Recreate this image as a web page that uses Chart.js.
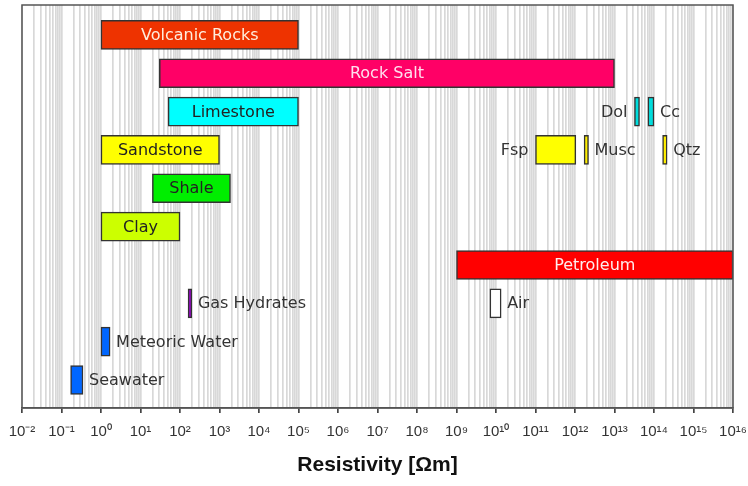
<!DOCTYPE html>
<html>
<head>
<meta charset="utf-8">
<script src="https://cdn.jsdelivr.net/npm/chart.js@4"></script>
<style>
  html, body { margin: 0; padding: 0; background: #fff; }
  #wrap { width: 748px; height: 486px; }
</style>
</head>
<body>
<div id="wrap"><canvas id="chart"></canvas></div>
<script>
// materials, one bar each
var names  = ['Volcanic Rocks', 'Rock Salt', 'Limestone', 'Dol', 'Cc', 'Sandstone', 'Fsp', 'Musc', 'Qtz',
              'Shale', 'Clay', 'Petroleum', 'Gas Hydrates', 'Air', 'Meteoric Water', 'Seawater'];
var rows   = [0, 1, 2, 2, 2, 3, 3, 3, 3, 4, 5, 6, 7, 7, 8, 9];
var lows   = [1, 30, 50, 3.2e13, 7e13, 1, 1e11, 1.7e12, 1.65e14, 20, 1, 1e9, 160, 7e9, 1, 0.17];
var highs  = [1e5, 1e13, 1e5, 4.3e13, 1e14, 1e3, 1.05e12, 2.2e12, 2.15e14, 1900, 100, 1e16, 200, 1.35e10, 1.7, 0.35];
var fills  = ['#EE3300', '#FF0066', '#00FFFF', '#00DDDD', '#00DDDD', '#FFFF00', '#FFFF00', '#FFEE00', '#FFEE00',
              '#00EE00', '#CCFF00', '#FF0000', '#9900CC', '#FFFFFF', '#0066FF', '#0066FF'];
// where the name goes: inside the bar, or to its left / right
var labelPos = ['in', 'in', 'in', 'left', 'right', 'in', 'left', 'right', 'right',
                'in', 'in', 'in', 'right', 'right', 'right', 'right'];
var labelColor = ['#FFEEDD', '#FFE0EE', '#222', '#333', '#333', '#222', '#333', '#333', '#333',
                  '#222', '#222', '#FFEEEE', '#333', '#333', '#333', '#333'];
var minExp = -2, maxExp = 16;

var sup = {'-': '\u207B', '0': '\u2070', '1': '\u00B9', '2': '\u00B2', '3': '\u00B3', '4': '\u2074',
           '5': '\u2075', '6': '\u2076', '7': '\u2077', '8': '\u2078', '9': '\u2079'};
function powLabel(e) {
  return '10' + String(e).split('').map(function(c) { return sup[c]; }).join('');
}
function isDecade(v) {
  var e = Math.round(Math.log10(v));
  return Math.abs(v - Math.pow(10, e)) < Math.pow(10, e) * 1e-9;
}

var barData = names.map(function(n, i) { return { x: [lows[i], highs[i]], y: rows[i] }; });

var labelsPlugin = {
  id: 'barLabels',
  afterDatasetsDraw: function(chart) {
    var ctx = chart.ctx;
    var meta = chart.getDatasetMeta(0);
    ctx.save();
    ctx.font = '16px "DejaVu Sans"';
    ctx.textBaseline = 'middle';
    meta.data.forEach(function(bar, i) {
      var p = bar.getProps(['x', 'base', 'y'], true);
      var l = Math.min(p.x, p.base), r = Math.max(p.x, p.base);
      ctx.fillStyle = labelColor[i];
      if (labelPos[i] === 'in') {
        ctx.textAlign = 'center';
        ctx.fillText(names[i], (l + r) / 2, p.y + 1);
      } else if (labelPos[i] === 'left') {
        ctx.textAlign = 'right';
        ctx.fillText(names[i], l - 7, p.y + 1);
      } else {
        ctx.textAlign = 'left';
        ctx.fillText(names[i], r + 6, p.y + 1);
      }
    });
    ctx.restore();
  },
  afterDraw: function(chart) {
    var a = chart.chartArea, ctx = chart.ctx;
    ctx.save();
    ctx.strokeStyle = '#555';
    ctx.lineWidth = 1.5;
    ctx.strokeRect(a.left, a.top, a.right - a.left, a.bottom - a.top);
    ctx.restore();
  }
};

new Chart(document.getElementById('chart'), {
  type: 'bar',
  data: {
    datasets: [{
      data: barData,
      backgroundColor: fills,
      borderColor: '#333',
      borderWidth: 1.5,
      borderSkipped: false,
      barThickness: 29
    }]
  },
  options: {
    indexAxis: 'y',
    responsive: true,
    maintainAspectRatio: false,
    animation: false,
    layout: { padding: { left: 22, right: 15, top: 5, bottom: 0 } },
    plugins: { legend: { display: false }, tooltip: { enabled: false } },
    scales: {
      x: {
        type: 'logarithmic',
        min: Math.pow(10, minExp),
        max: Math.pow(10, maxExp),
        afterBuildTicks: function(scale) {
          var t = [];
          for (var e = minExp; e < maxExp; e++) {
            for (var m = 1; m <= 9; m++) t.push({ value: m === 1 ? Math.pow(10, e) : m * Math.pow(10, e) });
          }
          t.push({ value: Math.pow(10, maxExp) });
          scale.ticks = t;
        },
        afterFit: function(scale) {
          scale.height = 78;
          scale.paddingLeft = 0;
          scale.paddingRight = 0;
        },
        grid: {
          color: '#d8d8d8',
          lineWidth: 1.7,
          tickLength: 5,
          tickColor: function(c) { return c.tick && isDecade(c.tick.value) ? '#444' : 'rgba(0,0,0,0)'; }
        },
        border: { display: true, color: '#555', width: 1.5 },
        ticks: {
          autoSkip: false,
          maxRotation: 0,
          padding: 10,
          color: '#333',
          font: { family: '"Liberation Sans", Arial', size: 15 },
          callback: function(v) {
            return isDecade(v) ? powLabel(Math.round(Math.log10(v))) : '';
          }
        },
        title: {
          display: true,
          text: 'Resistivity [\u03A9m]',
          color: '#111',
          font: { family: '"Liberation Sans", Arial', size: 21, weight: 'bold' },
          padding: { top: 0, bottom: 8 }
        }
      },
      y: {
        type: 'linear',
        reverse: true,
        offset: false,
        min: -0.78,
        max: 9.73,
        display: false
      }
    }
  },
  plugins: [labelsPlugin]
});
</script>
</body>
</html>
